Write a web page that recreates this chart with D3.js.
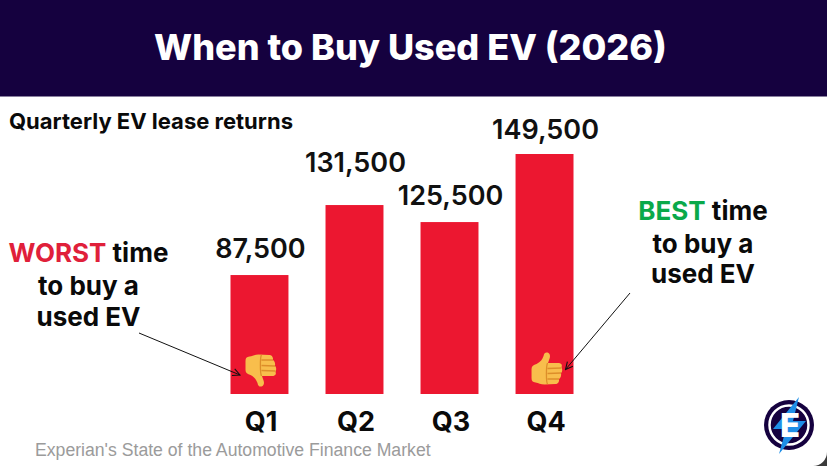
<!DOCTYPE html>
<html>
<head>
<meta charset="utf-8">
<script src="https://cdn.jsdelivr.net/npm/d3@7"></script>
<style>
  body { margin: 0; background: #fff; }
  text { font-family: Inter, "Noto Sans", sans-serif; }
</style>
</head>
<body>
<script>
const quarters = ["Q1", "Q2", "Q3", "Q4"];
const valueLabels = ["87,500", "131,500", "125,500", "149,500"];
// bar lengths as actually drawn in the picture (it is not to scale with its labels)
const barValues = [74100, 117700, 107100, 149500];

const width = 827, height = 466;
const svg = d3.select("body").append("svg")
    .attr("width", width)
    .attr("height", height)
    .style("display", "block");

const defs = svg.append("defs");
defs.append("marker")
    .attr("id", "arrow")
    .attr("viewBox", "0 0 10 10")
    .attr("refX", 9).attr("refY", 5)
    .attr("markerWidth", 9).attr("markerHeight", 9)
    .attr("markerUnits", "userSpaceOnUse")
    .attr("orient", "auto")
    .append("path")
    .attr("d", "M1,1 L9,5 L1,9")
    .attr("fill", "none")
    .attr("stroke", "#111")
    .attr("stroke-width", 1.2);

// header
svg.append("rect").attr("width", width).attr("height", 96.5).attr("fill", "#15013f");
svg.append("text")
    .attr("x", 410.5).attr("y", 60)
    .attr("text-anchor", "middle")
    .attr("fill", "#fff")
    .attr("font-size", 36)
    .attr("font-weight", 800)
    .text("When to Buy Used EV (2026)");

svg.append("text")
    .attr("x", 9).attr("y", 129)
    .attr("fill", "#0a0a0a")
    .attr("font-size", 22)
    .attr("font-weight", 700)
    .text("Quarterly EV lease returns");

// bars
const x = d3.scaleBand().domain(quarters).range([230.5, 573.5]).paddingInner(0.39);
const y = d3.scaleLinear().domain([0, 149500]).range([394, 154]);

svg.selectAll(".bar")
    .data(quarters)
    .enter().append("rect")
    .attr("class", "bar")
    .attr("x", d => x(d))
    .attr("y", (d, i) => y(barValues[i]))
    .attr("width", x.bandwidth())
    .attr("height", (d, i) => y(0) - y(barValues[i]))
    .attr("fill", "#ec1730");

// the Q2 label sits higher so it clears the Q3 one
const labelGap = d => d === "Q2" ? 33 : d === "Q4" ? 15 : 17;

svg.selectAll(".value")
    .data(quarters)
    .enter().append("text")
    .attr("class", "value")
    .attr("x", d => x(d) + x.bandwidth() / 2 + 1)
    .attr("y", (d, i) => y(barValues[i]) - labelGap(d))
    .attr("text-anchor", "middle")
    .attr("fill", "#111")
    .attr("font-size", 27)
    .attr("font-weight", 600)
    .text((d, i) => valueLabels[i]);

const axis = svg.append("g")
    .attr("transform", "translate(1.5,431)")
    .call(d3.axisBottom(x).tickSize(0).tickPadding(0));
axis.select(".domain").remove();
axis.selectAll("text")
    .attr("y", 0).attr("dy", 0)
    .attr("fill", "#0a0a0a")
    .attr("font-family", "Inter")
    .attr("font-size", 27)
    .attr("font-weight", 700);

// emoji hands, drawn as a thumbs up and flipped for the thumbs down
const hand = svg.selectAll(".hand")
    .data(["Q1", "Q4"])
    .enter().append("g")
    .attr("class", "hand")
    .attr("transform", d => d === "Q4"
        ? `translate(${x(d) + 15},352)`
        : `translate(${x(d) + 14},387) scale(1,-1)`);
hand.append("path")
    .attr("d", "M1,17 C1,14 3,13 6,12 C10,10 12,7 13,4 C13.5,1 15,0 17,0.5 C20,1.5 20,5 18.5,8 L17.5,11 L27,11 C31,11 32,13 31,15 C32,17 32,20 30.5,21 C31,24 30,26 28.5,27 C29,30 27,32 25,32 L14,32.5 C10,32.5 8,31 5,30.5 C2,30 1,29 1,26 Z")
    .attr("fill", "#f8be4c");
hand.append("path")
    .attr("d", "M17,16.5 L31,16 M17,21.5 L30.5,21 M17,27 L28.5,27 M17,11 C15.5,14 15.5,30 17,32")
    .attr("fill", "none")
    .attr("stroke", "#dd8e2a")
    .attr("stroke-width", 1.3);

// call-outs
function callout(cx, y0, lines) {
    const t = svg.append("g")
        .attr("font-size", 26)
        .attr("font-weight", 700)
        .attr("text-anchor", "middle")
        .attr("fill", "#0a0a0a");
    lines.forEach((l, i) => {
        const line = t.append("text").attr("x", cx).attr("y", y0[i]);
        if (l.lead) line.append("tspan").attr("fill", l.color).text(l.lead);
        line.append("tspan").text(l.text);
    });
}
callout(88.5, [262, 295, 326], [
    { lead: "WORST", color: "#e0203a", text: " time" },
    { text: "to buy a" },
    { text: "used EV" }
]);
callout(703, [220, 253, 283], [
    { lead: "BEST", color: "#0aa94a", text: " time" },
    { text: "to buy a" },
    { text: "used EV" }
]);

svg.append("line")
    .attr("x1", 139).attr("y1", 333).attr("x2", 240).attr("y2", 375)
    .attr("stroke", "#111").attr("stroke-width", 1)
    .attr("marker-end", "url(#arrow)");
svg.append("line")
    .attr("x1", 630).attr("y1", 293).attr("x2", 565.5).attr("y2", 369.5)
    .attr("stroke", "#111").attr("stroke-width", 1)
    .attr("marker-end", "url(#arrow)");

// source
svg.append("text")
    .attr("x", 35).attr("y", 456)
    .attr("fill", "#9b9b9b")
    .style("font-family", "'Liberation Sans'")
    .attr("font-size", 17.65)
    .text("Experian's State of the Automotive Finance Market");

// logo
const logo = svg.append("g").attr("transform", "translate(789,425)");
logo.append("circle").attr("r", 25).attr("fill", "#15013f");
logo.append("circle").attr("r", 19.5).attr("fill", "none").attr("stroke", "#fff").attr("stroke-width", 2.5);
logo.append("path")
    .attr("d", "M10,-28 L-16,4 L-3,4 L-10,29 L17,-4 L4,-4 Z")
    .attr("fill", "#1f8fe8");
logo.append("text")
    .attr("x", 1).attr("y", 12)
    .attr("text-anchor", "middle")
    .attr("fill", "#fff")
    .attr("font-size", 33)
    .attr("font-weight", 800)
    .text("E");

// window corner
svg.append("path").attr("d", "M827,452 A14,14 0 0,1 813,466 L827,466 Z").attr("fill", "#3a3a3a");
</script>
</body>
</html>
